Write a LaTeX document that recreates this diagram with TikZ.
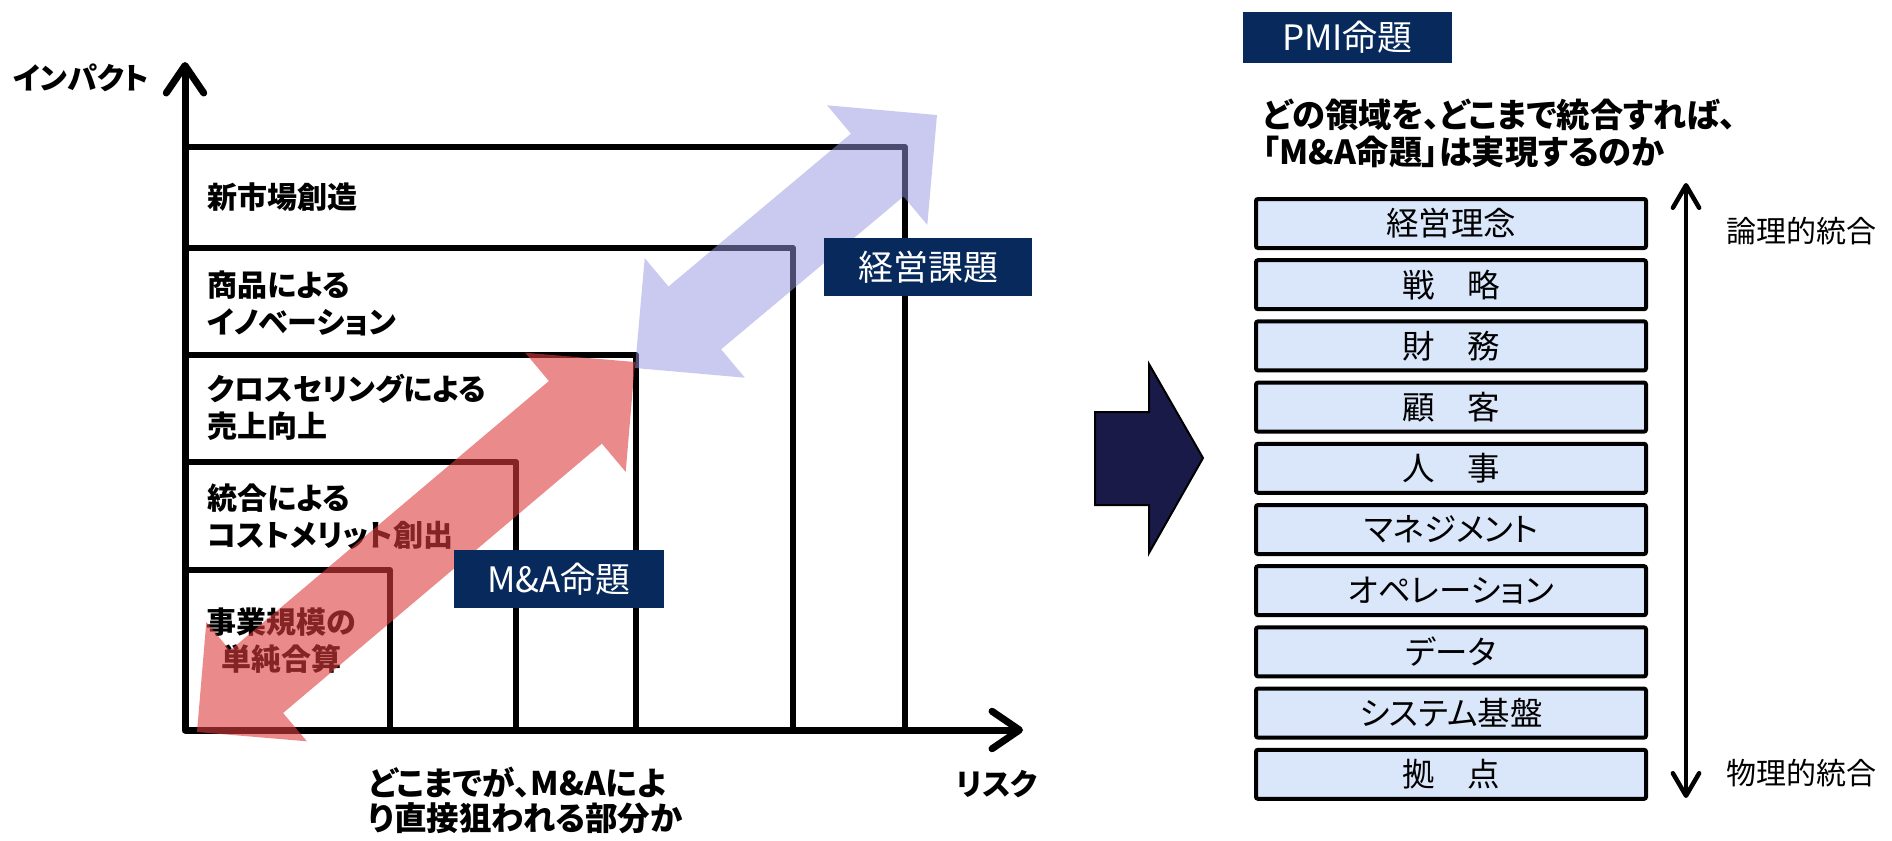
\documentclass[tikz,border=0pt]{standalone}
\usepackage{fontspec}
\setmainfont{Noto Sans CJK JP}[RawFeature=+palt]
\usetikzlibrary{arrows.meta}
\definecolor{navy}{RGB}{7,41,92}
\definecolor{arrownavy}{RGB}{26,26,72}
\definecolor{stackfill}{RGB}{218,230,250}
\definecolor{redarr}{RGB}{220,60,60}
\definecolor{bluearr}{RGB}{150,150,225}
\tikzset{
  axtip/.tip={Straight Barb[length=11pt,width=15pt,round]},
  vtip/.tip={Straight Barb[length=9pt,width=10.5pt,round]}
}
\begin{document}
\begin{tikzpicture}[x=0.4pt,y=-0.4pt,
  lbl/.style={font=\fontsize{12}{14.8}\selectfont\bfseries, align=left, inner sep=0pt, anchor=west},
  navybox/.style={fill=navy, text=white, font=\fontsize{14}{16}\selectfont, inner sep=0pt},
  stackbox/.style={draw=black, line width=1.6pt, fill=stackfill, minimum width=156pt, minimum height=19.6pt, inner sep=0pt, rounded corners=0.8pt, font=\fontsize{13}{15}\selectfont},
  sidelbl/.style={font=\fontsize{12}{14}\selectfont, inner sep=0pt},
  axisline/.style={line width=2.8pt, line join=round},
  stepline/.style={line width=2.4pt, line join=round}
]
\useasboundingbox (0,0) rectangle (1892,840);

% ---------- left panel ----------
\coordinate (ytip) at (185,62);
\coordinate (origin) at (185,730);
\coordinate (xtip) at (1023,730);

\draw[stepline] (185,147) -- (905,147) -- (905,730);
\draw[stepline] (185,248) -- (793,248) -- (793,730);
\draw[stepline] (185,355) -- (636,355) -- (636,730);
\draw[stepline] (185,462) -- (516,462) -- (516,730);
\draw[stepline] (185,570) -- (390,570) -- (390,730);
\draw[axisline, axtip-axtip] (ytip) -- (origin) -- (xtip);

\node[lbl, anchor=center] (yl) at (81,78) {インパクト};
\node[lbl, anchor=center] (xl) at (997,784) {リスク};

\node[lbl] (t5) at (207,197) {新市場創造};
\node[lbl] (t4) at (207,303) {商品による\\イノベーション};
\node[lbl] (t3) at (207,407.5) {クロスセリングによる\\売上向上};
\node[lbl] (t2) at (207,516.5) {統合による\\コストメリット創出};
\node[lbl, align=center, anchor=center] (t1) at (281,640.5) {事業規模の\\単純合算};

\node[lbl, font=\fontsize{13}{14}\selectfont\bfseries] (bq) at (368,800.5) {どこまでが、M\&Aによ\\り直接狙われる部分か};

% red double arrow
\fill[redarr, fill opacity=0.6]
  (197,732) -- (306.9,741.3) -- (283.1,713.0) -- (601.9,443.6) -- (625.7,471.9)
  -- (635,362) -- (525.1,352.7) -- (548.9,381.0) -- (230.1,650.4) -- (206.3,622.1) -- cycle;
% blue double arrow
\fill[bluearr, fill opacity=0.5]
  (635,368) -- (744.9,377.7) -- (721.1,349.3) -- (903.5,196.5) -- (927.3,224.9)
  -- (937,115) -- (827.1,105.3) -- (850.9,133.7) -- (668.5,286.5) -- (644.7,258.1) -- cycle;

\node[navybox, minimum width=83.2pt, minimum height=23.2pt] (kk) at (928,267) {経営課題};
\node[navybox, minimum width=84pt, minimum height=23.2pt] (ma) at (559,579) {M\&A命題};

% ---------- middle arrow ----------
\draw[fill=arrownavy, draw=black, line width=0.8pt, line join=miter]
  (1095,412) -- (1149,412) -- (1149,364) -- (1203,458) -- (1149,553) -- (1149,505) -- (1095,505) -- cycle;

% ---------- right panel ----------
\node[navybox, minimum width=83.6pt, minimum height=20.4pt] (pmi) at (1347.5,37.5) {PMI命題};
\node[lbl, font=\fontsize{13.3}{14.8}\selectfont\bfseries] (q) at (1262,133.5) {どの領域を、どこまで統合すれば、\\「M\&A命題」は実現するのか};

\foreach \t [count=\i from 0] in {経営理念,戦　略,財　務,顧　客,人　事,マネジメント,オペレーション,データ,システム基盤,拠　点}{
  \node[stackbox] (s\i) at (1451,{223.5+61.2*\i}) {\t};
}

\coordinate (vtop) at (1686,183);
\coordinate (vbot) at (1686,798);
\draw[line width=1.8pt, vtip-vtip] (vtop) -- (vbot);

\node[sidelbl] (lg) at (1801,231) {論理的統合};
\node[sidelbl] (ph) at (1801,773) {物理的統合};
\end{tikzpicture}
\end{document}
